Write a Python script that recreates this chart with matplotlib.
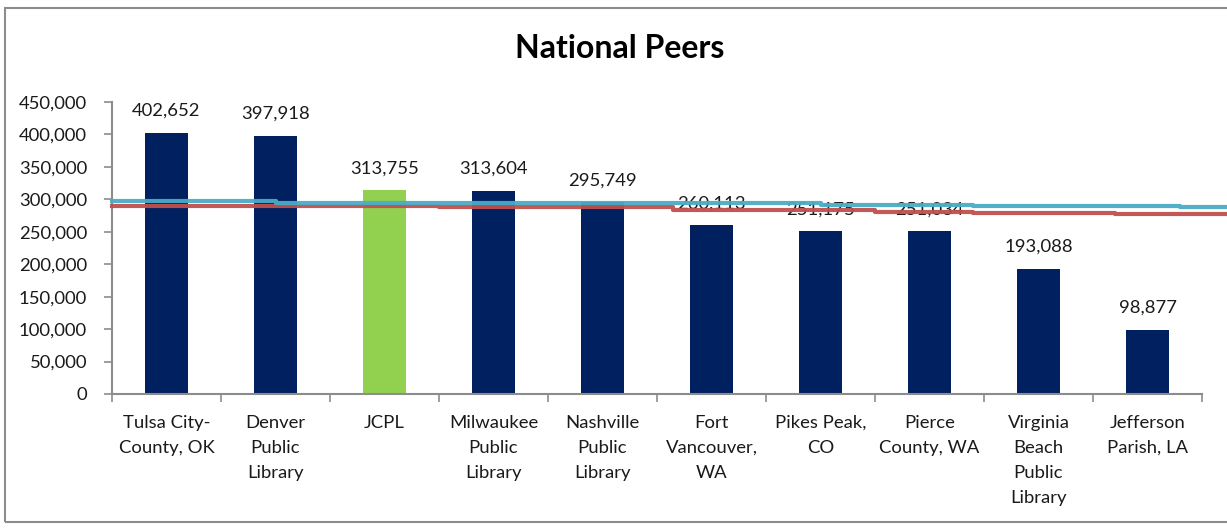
import matplotlib
matplotlib.use("Agg")
import matplotlib.pyplot as plt
from matplotlib.patches import Rectangle
from matplotlib.ticker import FuncFormatter, MultipleLocator

plt.rcParams['font.family'] = ['Lato', 'DejaVu Sans']

categories = ["Tulsa City-\nCounty, OK", "Denver\nPublic\nLibrary", "JCPL",
              "Milwaukee\nPublic\nLibrary", "Nashville\nPublic\nLibrary",
              "Fort\nVancouver,\nWA", "Pikes Peak,\nCO", "Pierce\nCounty, WA",
              "Virginia\nBeach\nPublic\nLibrary", "Jefferson\nParish, LA"]
values = [402652, 397918, 313755, 313604, 295749, 260113, 251175, 251034, 193088, 98877]
labels = ["402,652", "397,918", "313,755", "313,604", "295,749", "260,113",
          "251,175", "251,034", "193,088", "98,877"]
highlight = "JCPL"

# overlay lines (stepped) in category coordinates
cyan_x = [-0.5, 1.0, 3.1, 6.0, 7.4, 9.3, 9.74]
cyan_y = [298000, 295000, 294000, 292000, 290000, 288000, 288000]
red_x = [-0.5, 2.5, 4.65, 6.5, 7.4, 8.7, 9.74]
red_y = [290000, 287500, 284000, 281000, 279000, 277000, 277000]

W, H = 1227, 529
fs = 13.3
fig = plt.figure(figsize=(W / 100, H / 100), dpi=100)
fig.patches.append(Rectangle((5 / W, 1 - 522 / H), 1.0, (522 - 8) / H,
                             transform=fig.transFigure, fill=False,
                             edgecolor="#8c8c8c", linewidth=1.5))

ax = fig.add_axes([112 / W, 1 - 394 / H, (1202 - 112) / W, (394 - 102) / H])
x = list(range(len(categories)))
colors = ["#92D050" if c == highlight else "#002060" for c in categories]
ax.bar(x, values, width=0.4, color=colors, zorder=2)

for xi, v, lab in zip(x, values, labels):
    ax.annotate(lab, (xi, v), xytext=(0, 10), textcoords="offset points",
                ha="center", va="bottom", fontsize=fs, color="#1a1a1a", zorder=1)

ax.plot(red_x, red_y, drawstyle="steps-post", color="#C0504D", lw=3,
        clip_on=False, zorder=3, alpha=0.95)
ax.plot(cyan_x, cyan_y, drawstyle="steps-post", color="#4BACC6", lw=3,
        clip_on=False, zorder=4, alpha=0.95)

ax.set_xlim(-0.5, len(categories) - 0.5)
ax.set_ylim(0, 450000)
ax.yaxis.set_major_locator(MultipleLocator(50000))
ax.yaxis.set_major_formatter(FuncFormatter(lambda v, p: f"{int(v):,}"))
ax.set_xticks(x)
ax.set_xticklabels(categories, fontsize=fs, linespacing=1.7, color="#1a1a1a")
ax.tick_params(axis="x", length=0, pad=15)
ax.set_xticks([i - 0.5 for i in range(len(categories) + 1)], minor=True)
ax.tick_params(axis="x", which="minor", length=6, color="#8c8c8c", width=1.2)
ax.tick_params(axis="y", labelsize=fs, length=6, color="#8c8c8c", width=1.2,
               labelcolor="#1a1a1a", pad=12)
for s in ["top", "right"]:
    ax.spines[s].set_visible(False)
for s in ["left", "bottom"]:
    ax.spines[s].set_color("#8c8c8c")
    ax.spines[s].set_linewidth(1.5)

fig.text(620 / W, 1 - 48 / H, "National Peers", ha="center", va="center",
         fontsize=23, fontweight="bold", color="black")

fig.savefig("out.png", dpi=100)
